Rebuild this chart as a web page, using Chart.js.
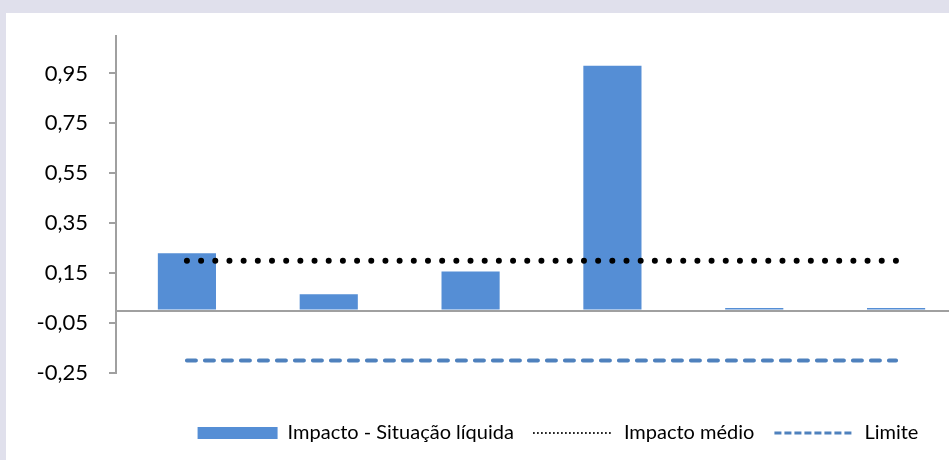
<!DOCTYPE html>
<html>
<head>
<meta charset="utf-8">
<script src="https://cdn.jsdelivr.net/npm/chart.js@4.4.0/dist/chart.umd.min.js"></script>
<style>
    html, body { margin: 0; padding: 0; background: #e0e0ec; overflow: hidden; }
    #frame { position: absolute; left: 6px; top: 13px; width: 943px; height: 447px; background: #fff; overflow: hidden; }
    #chart-box { position: absolute; left: 0; top: 0; width: 1104px; height: 460px; }
</style>
</head>
<body>
<div id="frame"><div id="chart-box"><canvas id="impact-chart"></canvas></div></div>
<script>
const categories = ['1', '2', '3', '4', '5', '6'];
const impactoSituacao = [0.23, 0.065, 0.157, 0.981, 0.01, 0.01];
const impactoMedio = [0.2, 0.2, 0.2, 0.2, 0.2, 0.2];
const limite = [-0.2, -0.2, -0.2, -0.2, -0.2, -0.2];
const yTicks = [-0.25, -0.05, 0.15, 0.35, 0.55, 0.75, 0.95];

const axisGray = '#a0a0a0';
const fontFamily = 'Lato, "Open Sans", sans-serif';

const ctx = document.getElementById('impact-chart').getContext('2d');
const impactChart = new Chart(ctx, {
    data: {
        labels: categories,
        datasets: [
            {
                type: 'bar',
                label: 'Impacto - Situação líquida',
                data: impactoSituacao,
                backgroundColor: '#558ed5',
                borderWidth: 0,
                barPercentage: 0.41,
                categoryPercentage: 1,
                order: 1
            },
            {
                type: 'line',
                label: 'Impacto médio',
                data: impactoMedio,
                borderColor: '#000',
                borderWidth: 6,
                borderDash: [0, 14.18],
                borderCapStyle: 'round',
                pointRadius: 0,
                fill: false,
                order: 0
            },
            {
                type: 'line',
                label: 'Limite',
                data: limite,
                borderColor: '#4f81bd',
                borderWidth: 4,
                borderDash: [9, 9],
                borderCapStyle: 'round',
                pointRadius: 0,
                fill: false,
                order: 0
            }
        ]
    },
    options: {
        animation: false,
        responsive: true,
        maintainAspectRatio: false,
        layout: { padding: { top: 23, bottom: 20, left: 0, right: 0 } },
        plugins: {
            tooltip: { enabled: false },
            legend: {
                position: 'bottom',
                labels: {
                    usePointStyle: true,
                    pointStyleWidth: 80,
                    boxWidth: 80,
                    boxHeight: 12,
                    padding: 20,
                    color: '#000',
                    font: { family: fontFamily, size: 20 },
                    sort: (a, b) => a.datasetIndex - b.datasetIndex,
                    generateLabels: chart => {
                        const items = Chart.defaults.plugins.legend.labels.generateLabels(chart);
                        items.forEach(item => {
                            if (item.datasetIndex === 0) {
                                item.pointStyle = 'rect';
                                item.lineWidth = 0;
                            } else if (item.datasetIndex === 1) {
                                item.pointStyle = 'line';
                                item.lineWidth = 2;
                                item.lineDash = [0, 4];
                                item.lineCap = 'round';
                            } else {
                                item.pointStyle = 'line';
                                item.lineWidth = 3;
                                item.lineDash = [7, 3];
                                item.lineCap = 'butt';
                            }
                        });
                        return items;
                    }
                }
            }
        },
        scales: {
            x: {
                grid: { display: false },
                border: { display: false },
                ticks: { display: false },
                afterFit: scale => { scale.height = 30; }
            },
            y: {
                min: -0.25,
                max: 1.1,
                afterBuildTicks: scale => {
                    // zero gets its own tick so it can carry the base line
                    scale.ticks = yTicks.concat([0]).sort((a, b) => a - b).map(v => ({ value: v }));
                },
                afterFit: scale => {
                    scale.width = 110;
                    scale.paddingTop = 0;
                    scale.paddingBottom = 0;
                },
                border: { display: true, color: axisGray, width: 2 },
                grid: {
                    lineWidth: 2,
                    tickLength: 7,
                    color: c => (c.tick && c.tick.value === 0 ? axisGray : 'transparent'),
                    tickColor: c => (c.tick && c.tick.value === 0 ? 'transparent' : axisGray)
                },
                ticks: {
                    padding: 21,
                    color: '#000',
                    font: { family: fontFamily, size: 22 },
                    callback: v => (v === 0 ? '' : v.toFixed(2).replace('.', ','))
                }
            },
            y2: {
                position: 'right',
                grid: { display: false },
                border: { display: false },
                ticks: { display: false },
                afterFit: scale => { scale.width = 143; }
            }
        }
    }
});
</script>
</body>
</html>
